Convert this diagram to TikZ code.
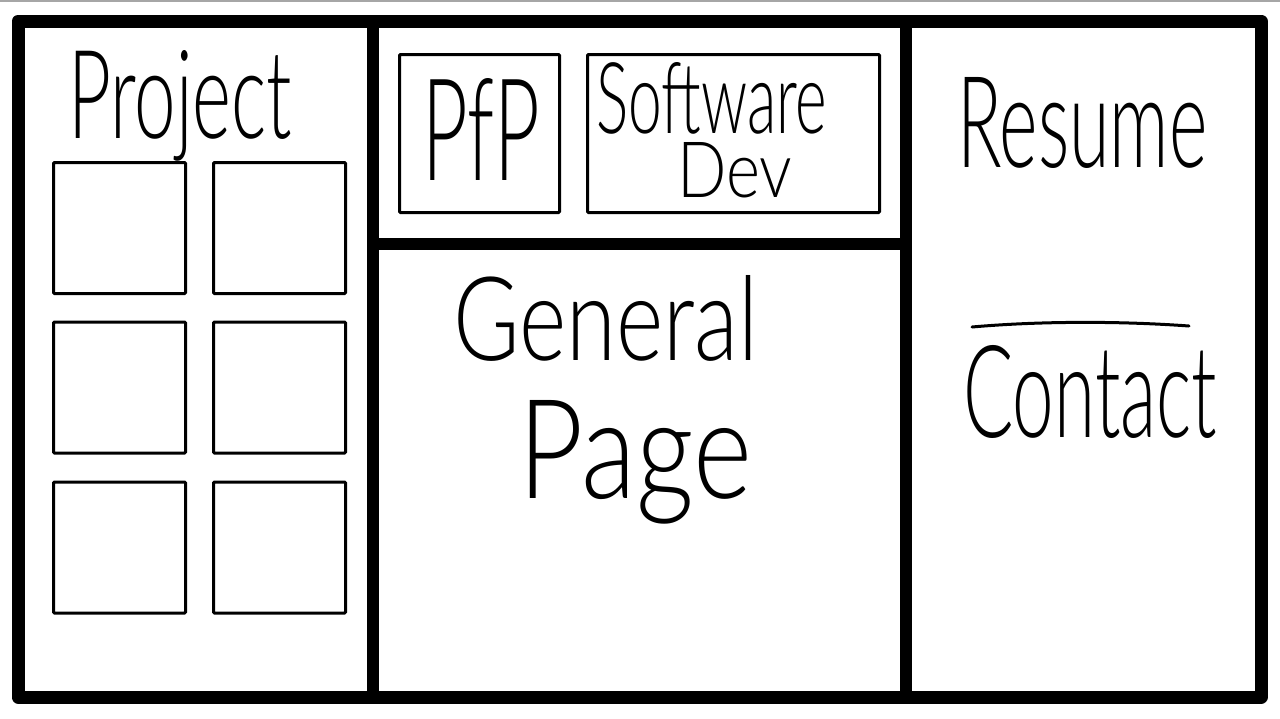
\documentclass[tikz,border=0pt]{standalone}
\usepackage{fontspec}
\setmainfont{Lato}[UprightFont=* Light]
\usepackage{graphicx}
% word stretched to a given width and height above its baseline
\newcommand\handword[3]{\resizebox{#1pt}{#2pt}{#3}}
\begin{document}
\begin{tikzpicture}[x=1pt,y=-1pt,
  frameline/.style={line width=13pt,line join=round,line cap=round},
  divider/.style={line width=12pt},
  wbox/.style={draw,line width=3pt,rounded corners=1pt,inner sep=0pt},
  word/.style={inner sep=0pt,anchor=base west}]
\useasboundingbox (0,0) rectangle (1280,718);
\fill[white] (0,0) rectangle (1280,718);
\draw[gray!70,line width=1.5pt] (0,1) -- (1280,1);

% outer frame and panel dividers
\draw[frameline] (18,21) rectangle (1261,697);
\draw[divider] (373,21) -- (373,697);
\draw[divider] (906,21) -- (906,697);
\draw[divider] (373,244) -- (906,244);

% project grid
\foreach \r/\yy in {1/228,2/387.5,3/547.5}{
  \node[wbox,minimum width=132,minimum height=131] (pa\r) at (119.5,\yy) {};
  \node[wbox,minimum width=132,minimum height=131] (pb\r) at (279.5,\yy) {};
}

% header boxes
\node[wbox,minimum width=160,minimum height=158] (pfp) at (479.5,133.5) {};
\node[wbox,minimum width=292,minimum height=158] (dev) at (733.5,133.5) {};

% handwritten labels
\node[word] (tproject) at (68,138) {\handword{224}{88}{Project}};
\node[word] (tpfp) at (422,180) {\handword{118}{102}{PfP}};
% two-line label: second line starts 81pt right of the first, 64pt lower
\node[word] (tsoft) at (596,133)
  {\handword{231}{71}{Software}\hspace{-150pt}\raisebox{-64pt}{\handword{115}{55}{Dev}}};
\node[word] (tgen) at (453,360) {\handword{305}{85}{General}};
\node[word] (tpage) at (518,498) {\handword{234}{98}{Page}};
\node[word] (tres) at (957,167) {\handword{250}{90}{Resume}};
\node[word] (tcon) at (963,437) {\handword{254}{92}{Contact}};

% separator above contact
\coordinate (sepL) at (972,327);
\coordinate (sepR) at (1189,326);
\draw[line width=3pt,line cap=round] (sepL) .. controls (1040,321) and (1120,321) .. (sepR);
\end{tikzpicture}
\end{document}
